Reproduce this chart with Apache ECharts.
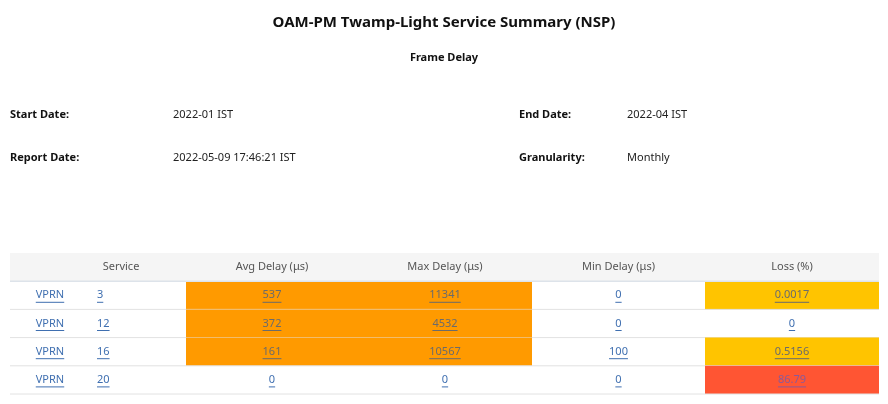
<!DOCTYPE html>
<html>
<head>
<meta charset="utf-8">
<script src="https://cdn.jsdelivr.net/npm/echarts@6/dist/echarts.min.js"></script>
<style>html,body{margin:0;padding:0;background:#fff}#main{width:888px;height:404px}</style>
</head>
<body>
<div id="main"></div>
<script>
// table data
var headers = ['', 'Service', 'Avg Delay (\u03bcs)', 'Max Delay (\u03bcs)', 'Min Delay (\u03bcs)', 'Loss (%)']
var serviceType = ['VPRN', 'VPRN', 'VPRN', 'VPRN']
var serviceId = ['3', '12', '16', '20']
var avgDelay = ['537', '372', '161', '0']
var maxDelay = ['11341', '4532', '10567', '0']
var minDelay = ['0', '0', '100', '0']
var loss = ['0.0017', '0', '0.5156', '86.79']
// cell status: 0 none, 1 orange, 2 yellow, 3 red
var avgStatus = [1, 1, 1, 0]
var maxStatus = [1, 1, 1, 0]
var minStatus = [0, 0, 0, 0]
var lossStatus = [2, 0, 2, 3]

var statusColors = [null, '#ff9a00', '#ffc400', '#ff5533']
var colEdges = [0, 76, 176, 348, 522, 695, 869]
var FONT = '"Noto Sans", sans-serif'

var ctx = document.createElement('canvas').getContext('2d')
function textWidth(t, size) {
    ctx.font = size + 'px "Noto Sans"'
    return ctx.measureText(t).width
}

var cells = []
for (var i = 0; i < serviceType.length; i++) {
    var rowVals = [serviceType[i], serviceId[i], avgDelay[i], maxDelay[i], minDelay[i], loss[i]]
    var rowStat = [0, 0, avgStatus[i], maxStatus[i], minStatus[i], lossStatus[i]]
    for (var c = 0; c < rowVals.length; c++) {
        cells.push([c, i + 1, rowVals[c], rowStat[c]])
    }
}
for (var h = 0; h < headers.length; h++) cells.push([h, 0, headers[h], -1])

function renderCell(params, api) {
    var c = api.value(0), r = api.value(1), txt = cells[params.dataIndex][2], st = api.value(3)
    var x0 = api.coord([colEdges[c], r])[0]
    var x1 = api.coord([colEdges[c + 1], r])[0]
    var rowH = api.size([0, 1])[1]
    var yc = api.coord([0, r])[1]
    var y0 = yc - rowH / 2
    var children = []
    if (st === -1) {
        children.push({type: 'rect', shape: {x: x0, y: y0, width: x1 - x0, height: rowH}, style: {fill: '#f5f5f5'}})
        children.push({type: 'line', shape: {x1: x0, y1: y0 + rowH, x2: x1, y2: y0 + rowH}, style: {stroke: '#dde3ea', lineWidth: 1.5}})
        children.push({type: 'text', x: c === 1 ? x0 + 35 : (x0 + x1) / 2, y: yc, style: {text: txt, fill: '#555', font: '11px ' + FONT, align: 'center', verticalAlign: 'middle'}})
        return {type: 'group', children: children}
    }
    if (statusColors[st]) {
        children.push({type: 'rect', shape: {x: x0, y: y0, width: x1 - x0, height: rowH}, style: {fill: statusColors[st]}})
    }
    children.push({type: 'line', shape: {x1: x0, y1: y0 + rowH, x2: x1, y2: y0 + rowH}, style: {stroke: '#e2e2e2', lineWidth: 1}})
    var tx, align
    if (c === 0) { tx = x0 + 40; align = 'center' }
    else if (c === 1) { tx = x0 + 11; align = 'left' }
    else { tx = (x0 + x1) / 2; align = 'center' }
    var color = st === 0 ? '#3f6fb0' : (st === 3 ? '#8a5a9a' : '#6b6b6b')
    var w = textWidth(txt, 11)
    var lx = align === 'center' ? tx - w / 2 : tx
    children.push({type: 'text', x: tx, y: yc, style: {text: txt, fill: color, font: '11px ' + FONT, align: align, verticalAlign: 'middle'}})
    children.push({type: 'line', shape: {x1: lx, y1: yc + 7, x2: lx + w, y2: yc + 7}, style: {stroke: color, lineWidth: 1}})
    return {type: 'group', children: children}
}

var chart = echarts.init(document.getElementById('main'))
var labelStyle = {font: 'bold 11px ' + FONT, fill: '#111'}
var valStyle = {font: '11px ' + FONT, fill: '#222'}
chart.setOption({
    animation: false,
    title: {
        text: 'OAM-PM Twamp-Light Service Summary (NSP)',
        left: 'center', top: 10,
        textStyle: {fontFamily: FONT, fontSize: 15, fontWeight: 'bold', color: '#111'}
    },
    graphic: [
        {type: 'text', left: 'center', top: 52, style: {text: 'Frame Delay', font: 'bold 11px ' + FONT, fill: '#111'}},
        {type: 'text', left: 10, top: 109, style: Object.assign({text: 'Start Date:'}, labelStyle)},
        {type: 'text', left: 173, top: 109, style: Object.assign({text: '2022-01 IST'}, valStyle)},
        {type: 'text', left: 519, top: 109, style: Object.assign({text: 'End Date:'}, labelStyle)},
        {type: 'text', left: 627, top: 109, style: Object.assign({text: '2022-04 IST'}, valStyle)},
        {type: 'text', left: 10, top: 152, style: Object.assign({text: 'Report Date:'}, labelStyle)},
        {type: 'text', left: 173, top: 152, style: Object.assign({text: '2022-05-09 17:46:21 IST'}, valStyle)},
        {type: 'text', left: 519, top: 152, style: Object.assign({text: 'Granularity:'}, labelStyle)},
        {type: 'text', left: 627, top: 152, style: Object.assign({text: 'Monthly'}, valStyle)}
    ],
    grid: {left: 10, right: 9, top: 253, height: 141},
    xAxis: {type: 'value', min: 0, max: 869, show: false},
    yAxis: {type: 'category', data: [0, 1, 2, 3, 4], inverse: true, show: false},
    series: [{
        type: 'custom',
        renderItem: renderCell,
        encode: {x: 0, y: 1},
        data: cells
    }]
})
</script>
</body>
</html>
